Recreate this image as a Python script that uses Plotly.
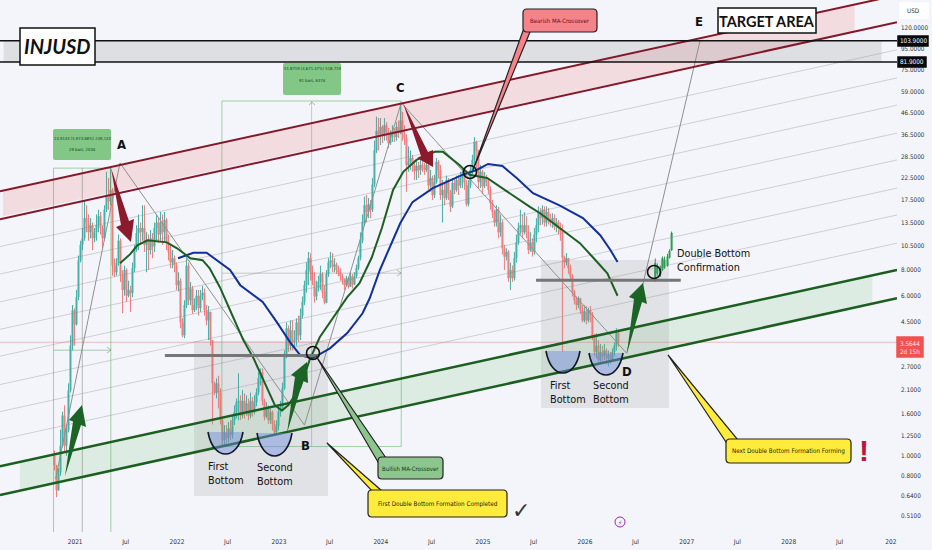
from datetime import datetime, timedelta
import pandas as pd
import plotly.graph_objects as go

# weekly candles
first_open = 1.0
candle_close = [
    .90, .68, .83, 1.12, 1.57, 1.12, 1.33, 2.08, 3.43, 5.1, 4.35, 5.9, 8.9, 10.6, 11.4, 14.3, 13.6, 12.2, 13.2, 11.4,
    12.2, 13.3, 14.6, 12.8, 11.4, 15.7, 18.5, 17.2, 19.6, 8.4, 7.8, 8.7, 11.1, 7.5, 6.4, 8.0, 6.0, 6.4, 6.17, 8.16,
    10.0, 12.1, 12.8, 12.2, 12.8, 10.6, 11.1, 10.0, 11.4, 10.4, 12.8, 13.6, 11.9, 13.6, 12.2, 14.0, 10.9, 9.8, 8.7, 9.13,
    8.4, 6.75, 7.1, 4.45, 3.85, 5.4, 8.4, 5.7, 6.5, 5.1, 5.4, 6.0, 5.22, 6.0, 6.2, 5.1, 4.55, 5.0, 3.65, 2.25,
    2.03, 2.25, 2.03, 1.49, 1.19, 1.3, 1.22, 1.36, 1.26, 1.49, 1.63, 1.82, 1.85, 1.57, 1.85, 1.63, 1.8, 1.57, 1.85, 1.63,
    1.82, 2.03, 2.38, 2.55, 1.85, 1.55, 1.7, 1.49, 1.63, 1.43, 1.3, 1.39, 1.63, 1.7, 2.13, 3.08, 4.17, 3.43, 4.08, 3.58,
    3.65, 4.45, 3.85, 4.8, 5.6, 6.75, 8.0, 9.13, 7.8, 7.1, 5.95, 6.52, 7.0, 7.65, 6.25, 5.55, 7.65, 8.7, 8.9, 8.3,
    8.5, 8.0, 7.8, 7.45, 7.1, 6.75, 7.3, 6.65, 7.45, 6.8, 7.45, 8.16, 9.13, 11.1, 13.6, 16.5, 15.3, 16.7, 15.7, 20.8,
    30.5, 38.0, 36.5, 39.6, 35.8, 40.4, 37.5, 33.1, 36.5, 38.0, 35.4, 39.6, 37.0, 42.6, 36.8, 35.0, 25.9, 26.8, 28.0, 25.9,
    24.2, 25.6, 24.5, 25.9, 25.0, 24.5, 25.9, 20.6, 22.4, 18.5, 21.4, 26.8, 24.5, 18.5, 19.6, 17.9, 21.9, 18.9, 16.3, 21.2,
    19.6, 21.9, 20.6, 22.4, 24.0, 21.2, 16.7, 20.6, 24.5, 27.4, 33.5, 30.5, 21.4, 24.0, 20.4, 22.4, 21.4, 19.6, 16.9, 15.3,
    13.6, 15.7, 12.2, 13.6, 10.2, 9.3, 9.8, 7.3, 8.0, 7.3, 9.13, 10.9, 12.8, 13.2, 12.2, 13.2, 12.2, 10.0, 10.9, 9.8,
    11.9, 13.2, 15.3, 14.3, 15.7, 13.6, 15.3, 14.0, 13.6, 14.3, 13.0, 13.6, 12.8, 12.2, 9.2, 8.7, 9.13, 8.16, 7.45, 6.25,
    5.7, 5.4, 5.83, 5.1, 4.55, 5.0, 4.55, 5.1, 4.88, 3.81, 3.2, 3.43, 2.92, 3.2, 3.05, 3.25, 2.98, 3.1, 2.92, 3.2,
    3.43, 3.98, 3.56,
]
candle_high = [
    1.06, .90, .87, 1.34, 1.64, 1.76, 1.41, 2.25, 3.85, 5.4, 5.2, 6.4, 9.4, 11.1, 12.8, 17.5, 16.5, 14.9, 14.3, 13.6,
    12.8, 14.9, 15.7, 15.3, 13.2, 16.5, 24.0, 22.4, 25.3, 20.0, 9.1, 9.13, 11.9, 11.4, 7.97, 8.4, 8.16, 7.1, 6.7, 8.7,
    10.6, 13.2, 14.9, 13.6, 16.5, 16.5, 12.2, 11.9, 12.5, 12.1, 13.6, 14.9, 14.3, 15.3, 14.9, 15.3, 14.3, 11.9, 10.6, 10.0,
    9.4, 8.7, 7.8, 7.3, 4.66, 5.7, 9.13, 8.7, 7.0, 6.7, 5.83, 6.4, 6.4, 6.4, 6.7, 6.5, 5.4, 5.35, 5.0, 3.65,
    2.3, 2.38, 2.45, 2.13, 1.52, 1.41, 1.41, 1.46, 1.49, 1.57, 1.76, 1.9, 2.52, 1.97, 2.09, 2.01, 1.97, 1.9, 2.03, 1.93,
    1.97, 2.13, 2.55, 2.66, 2.66, 1.9, 1.82, 1.76, 1.7, 1.66, 1.49, 1.49, 1.7, 1.85, 2.27, 3.25, 4.45, 4.3, 4.55, 4.55,
    4.08, 4.66, 4.8, 5.2, 5.95, 7.1, 8.7, 9.8, 9.66, 8.4, 7.8, 7.1, 7.5, 8.4, 7.8, 6.75, 8.0, 9.13, 9.8, 9.66,
    9.13, 8.7, 8.4, 8.16, 7.65, 7.3, 7.5, 7.4, 7.8, 7.65, 7.8, 8.5, 9.4, 12.2, 14.9, 18.2, 18.5, 17.9, 17.5, 22.4,
    34.0, 44.5, 43.8, 43.8, 40.4, 43.8, 41.8, 39.2, 38.2, 40.4, 39.2, 41.8, 42.6, 51.8, 47.0, 40.4, 36.5, 31.9, 30.5, 29.0,
    27.4, 27.4, 26.8, 27.4, 27.4, 26.5, 27.4, 26.5, 24.5, 23.0, 23.2, 28.0, 27.4, 25.9, 21.9, 21.4, 23.0, 22.4, 19.6, 22.4,
    22.4, 23.0, 23.2, 24.0, 25.0, 24.5, 21.9, 21.9, 25.9, 29.0, 35.4, 34.0, 29.3, 25.9, 24.5, 24.0, 23.2, 22.4, 20.4, 17.5,
    15.7, 16.5, 16.2, 14.9, 14.0, 10.6, 10.2, 10.0, 8.7, 8.4, 9.8, 11.9, 13.6, 15.7, 14.9, 15.3, 14.6, 13.2, 12.2, 11.4,
    12.8, 14.3, 16.3, 16.0, 16.5, 16.3, 16.3, 16.0, 15.0, 15.1, 14.9, 14.3, 14.0, 13.6, 13.3, 9.4, 9.66, 9.13, 8.5, 7.65,
    6.4, 5.95, 5.95, 5.83, 5.4, 5.4, 5.35, 5.25, 5.35, 5.0, 3.9, 3.94, 3.65, 3.5, 3.43, 3.5, 3.33, 3.25, 3.2, 3.33,
    3.56, 4.17, 3.85,
]
candle_low = [
    .85, .63, .68, .80, 1.10, 1.04, 1.0, 1.30, 2.03, 3.26, 3.43, 4.3, 5.7, 8.7, 10.0, 11.1, 12.2, 11.1, 11.4, 10.0,
    10.9, 11.1, 12.2, 11.9, 10.2, 11.1, 15.3, 15.7, 16.5, 7.5, 7.4, 7.5, 8.4, 7.0, 4.93, 6.0, 5.6, 5.9, 5.0, 5.9,
    7.8, 9.8, 10.0, 10.6, 11.1, 9.8, 7.8, 8.0, 9.5, 9.13, 9.8, 11.1, 10.8, 11.1, 10.6, 10.9, 10.0, 8.9, 8.16, 8.16,
    7.8, 6.4, 6.3, 4.17, 3.77, 3.73, 5.22, 5.4, 5.4, 4.9, 5.0, 5.1, 4.8, 5.0, 5.7, 4.8, 4.3, 3.65, 3.43, 1.42,
    1.97, 1.9, 1.7, 1.42, 1.13, 1.13, 1.11, 1.16, 1.19, 1.21, 1.41, 1.52, 1.49, 1.49, 1.52, 1.52, 1.57, 1.49, 1.52, 1.55,
    1.59, 1.74, 1.97, 2.2, 1.76, 1.49, 1.52, 1.43, 1.43, 1.33, 1.27, 1.27, 1.33, 1.55, 1.66, 2.09, 2.98, 3.2, 3.25, 3.25,
    3.33, 3.43, 3.58, 3.65, 4.66, 5.4, 6.2, 6.75, 7.1, 6.75, 5.55, 5.7, 6.3, 6.4, 5.83, 5.45, 5.55, 7.4, 8.16, 7.8,
    7.8, 7.65, 7.45, 7.1, 6.8, 6.4, 6.65, 6.5, 6.65, 6.5, 6.75, 7.3, 8.0, 8.9, 10.8, 13.2, 13.6, 14.3, 14.3, 15.3,
    20.2, 29.6, 30.5, 32.4, 33.1, 34.0, 34.0, 31.3, 32.4, 33.5, 33.5, 34.0, 35.0, 36.5, 34.0, 32.4, 19.2, 24.0, 24.5, 24.0,
    21.9, 21.9, 22.4, 23.2, 24.0, 23.2, 24.0, 19.6, 19.2, 17.5, 17.9, 21.0, 22.4, 17.5, 13.6, 16.5, 17.5, 17.5, 15.3, 16.0,
    18.7, 19.2, 18.5, 20.0, 20.0, 19.6, 16.3, 16.3, 20.0, 23.4, 25.9, 25.0, 20.0, 20.0, 18.7, 20.0, 20.4, 18.7, 15.7, 14.3,
    13.0, 13.0, 11.4, 11.6, 9.5, 8.0, 8.9, 7.0, 6.4, 7.0, 7.1, 8.7, 10.6, 11.9, 11.4, 11.9, 11.4, 9.55, 9.8, 9.3,
    9.5, 10.9, 12.2, 13.2, 13.3, 13.0, 13.0, 13.3, 13.0, 12.8, 12.5, 12.2, 11.9, 11.1, 3.2, 8.16, 8.4, 7.65, 7.1, 5.95,
    5.45, 5.1, 5.22, 4.88, 4.45, 4.45, 4.35, 4.45, 4.45, 3.65, 3.05, 2.98, 2.85, 2.85, 2.85, 2.92, 2.79, 2.72, 2.79, 2.92,
    3.05, 3.25, 3.38,
]

# projected bars after the second double bottom
forecast_year = [2026.69, 2026.71, 2026.74, 2026.76, 2026.78, 2026.81, 2026.83, 2026.85]
forecast_open = [7.3, 7.7, 7.6, 8.0, 8.2, 8.4, 9.2, 10.0]
forecast_close = [8.63, 8.2, 8.0, 9.1, 9.0, 9.3, 9.9, 12.1]
forecast_high = [9.1, 8.6, 8.4, 9.3, 9.3, 9.6, 10.1, 12.3]
forecast_low = [7.0, 7.5, 7.4, 7.9, 8.1, 8.3, 9.1, 9.9]

# the two moving averages
ma_green_year = [2021.44, 2021.54, 2021.61, 2021.71, 2021.90, 2022.00, 2022.13, 2022.25, 2022.32, 2022.42, 2022.52,
                 2022.65, 2022.75, 2022.88, 2022.96, 2023.03, 2023.09, 2023.21, 2023.30, 2023.40, 2023.53, 2023.67,
                 2023.79, 2023.91, 2024.01, 2024.12, 2024.22, 2024.35, 2024.53, 2024.61, 2024.77, 2024.87, 2025.04,
                 2025.17, 2025.33, 2025.46, 2025.56, 2025.82, 2025.95, 2026.08, 2026.22, 2026.32]
ma_green_price = [8.63, 9.55, 10.55, 11.15, 10.9, 10.2, 9.13, 8.93, 8.16, 6.6, 5.1,
                  3.65, 2.98, 2.15, 1.76, 1.66, 1.76, 2.15, 2.92, 3.77, 4.66, 5.9,
                  6.9, 9.2, 12.8, 19.6, 24.0, 27.4, 30.0, 30.0, 25.9, 23.2, 22.4,
                  20.2, 17.9, 16.2, 15.1, 12.1, 10.8, 9.2, 7.7, 6.0]
ma_blue_year = [2022.01, 2022.16, 2022.29, 2022.39, 2022.52, 2022.62, 2022.84, 2022.98, 2023.11, 2023.21, 2023.33,
                2023.50, 2023.67, 2023.82, 2023.89, 2023.99, 2024.19, 2024.31, 2024.51, 2024.80, 2024.94, 2025.05,
                2025.19, 2025.33, 2025.49, 2025.75, 2025.98, 2026.15, 2026.25, 2026.32]
ma_blue_price = [9.13, 9.7, 9.7, 8.93, 8.0, 6.75, 5.6, 4.45, 3.56, 3.08, 2.98,
                 3.33, 3.95, 4.93, 5.83, 8.0, 13.5, 17.1, 20.0, 23.2, 24.5, 26.2,
                 25.6, 22.4, 18.9, 16.5, 14.3, 11.8, 10.0, 8.75]

# A-B-C-D-E swing line
swing_year = [2020.81, 2021.44, 2023.25, 2024.20, 2026.41, 2027.13]
swing_price = [.77, 26.5, 1.41, 52.0, 3.15, 104.0]

# parallel channel grid, bottom line to top line
channel_left = [.645, .89, 1.20, 1.64, 2.22, 3.05, 4.12, 5.6, 7.65, 10.4, 14.1, 19.3]
channel_right = [5.83, 8.0, 10.8, 14.8, 20.0, 27.4, 37.0, 50.6, 68.6, 94.0, 128.0, 173.0]

level_prices = [103.9, 81.9]
last_price = 3.5644

y_ticks = [120, 95, 75, 59, 46.5, 36.5, 28.5, 22.5, 17.5, 13.5, 10.5, 8, 6, 4.5, 2.7, 2.1, 1.6, 1.25, 1, .8, .64, .51]
x_tick_dates = ["2021-01-01", "2021-07-01", "2022-01-01", "2022-07-01", "2023-01-01", "2023-07-01", "2024-01-01",
                "2024-07-01", "2025-01-01", "2025-07-01", "2026-01-01", "2026-07-01", "2027-01-01", "2027-07-01",
                "2028-01-01", "2028-07-01", "2029-01-01"]
x_tick_text = ["2021", "Jul", "2022", "Jul", "2023", "Jul", "2024", "Jul", "2025", "Jul", "2026", "Jul", "2027",
               "Jul", "2028", "Jul", "202"]

PLOT_W = 897
PLOT_H = 532
BG = "#f3f5fa"
TEXT_FONT = "DejaVu Sans Condensed"
TITLE_FONT = "Lato"
X_START = 2020.265
X_END = 2029.06
Y_RANGE = [-0.370, 2.215]
RED_LINE = "#84182a"
GREEN_LINE = "#1b5e20"
RED_ARROW = "#8a1a2c"
GREEN_ARROW = "#1c6426"
MEASURE = "rgba(76,175,80,0.5)"


def year_date(value):
    whole = int(value)
    return datetime(whole, 1, 1) + timedelta(days=(value - whole) * 365.25)


def years(values):
    return [year_date(v) for v in values]


def px_x(x):
    return x / PLOT_W


def px_y(y):
    return 1 - y / PLOT_H


def poly(points, close=True):
    coords = [f"{px_x(x):.5f} {px_y(y):.5f}" for x, y in points]
    return "M " + " L ".join(coords) + (" Z" if close else "")


def round_box(x0, y0, x1, y1, r=4):
    def p(x, y):
        return f"{px_x(x):.5f} {px_y(y):.5f}"
    return (f"M {p(x0 + r, y0)} L {p(x1 - r, y0)} Q {p(x1, y0)} {p(x1, y0 + r)} L {p(x1, y1 - r)} "
            f"Q {p(x1, y1)} {p(x1 - r, y1)} L {p(x0 + r, y1)} Q {p(x0, y1)} {p(x0, y1 - r)} "
            f"L {p(x0, y0 + r)} Q {p(x0, y0)} {p(x0 + r, y0)} Z")


def cup(x0, x1, y0, depth):
    def p(x, y):
        return f"{px_x(x):.5f} {px_y(y):.5f}"
    return f"M {p(x0, y0)} C {p(x0 + 5, y0 + depth * 1.33)} {p(x1 - 5, y0 + depth * 1.33)} {p(x1, y0)}"


fig = go.Figure()


def add_line(x, y, color, width, dash=None):
    fig.add_trace(go.Scatter(x=x, y=y, mode="lines", line=dict(color=color, width=width, dash=dash),
                             hoverinfo="skip", showlegend=False))


def add_band(x, y, color):
    fig.add_trace(go.Scatter(x=x, y=y, mode="lines", fill="toself", fillcolor=color, line=dict(width=0),
                             hoverinfo="skip", showlegend=False))


# bands between the channel lines and the target levels
add_band(years([2020.294, 2028.647, 2028.647, 2020.294]), [19.4, 157.5, 116.0, 14.6], "rgba(239,83,80,0.15)")
add_band(years([2020.46, 2028.82, 2028.82, 2020.46]), [.93, 7.5, 5.47, .68], "rgba(76,175,80,0.13)")
add_band(years([2020.30, 2028.91, 2028.91, 2020.30]), [103.9, 103.9, 81.9, 81.9], "rgba(110,110,110,0.16)")

# measuring boxes from low to high
add_line(years([2020.79, 2020.79, 2021.35, 2021.35]), [1.9, 25.0, 25.0, .4265], MEASURE, 1)
add_line(years([2020.79, 2020.79]), [.4265, 1.9], "rgba(239,83,80,0.5)", 1)
add_line(years([2021.07, 2021.07]), [.4265, 25.0], "rgba(120,120,120,0.5)", 1)
add_line(years([2020.79, 2021.35]), [3.26, 3.26], MEASURE, 1)
add_line(years([2022.44, 2022.44, 2024.20, 2024.20, 2022.44]), [1.11, 53.0, 53.0, 1.11, 1.11], MEASURE, 1)
add_line(years([2023.32, 2023.32]), [1.11, 53.0], "rgba(120,120,120,0.35)", 1)
add_line(years([2022.44, 2024.20]), [7.72, 7.72], "rgba(120,120,120,0.35)", 1)

# thin grid between the channels
for left, right in zip(channel_left[2:-2], channel_right[2:-2]):
    add_line(years([X_START, X_END]), [left, right], "rgba(130,130,130,0.33)", 1)

add_line(years([X_START, X_END]), [last_price, last_price], "rgba(239,83,80,0.35)", 1)
add_line(years(swing_year), swing_price, "#8f8f8f", 1)

candle_open = [first_open] + candle_close[:-1]
candle_dates = pd.date_range("2020-10-19", "2026-05-01", periods=len(candle_close))
fig.add_trace(go.Candlestick(x=candle_dates, open=candle_open, high=candle_high, low=candle_low, close=candle_close,
                             increasing=dict(line=dict(color="#26a69a", width=1), fillcolor="#26a69a"),
                             decreasing=dict(line=dict(color="#ef6a67", width=1), fillcolor="#ef6a67"),
                             opacity=0.85, whiskerwidth=0, hoverinfo="skip", showlegend=False))
fig.add_trace(go.Candlestick(x=years(forecast_year), open=forecast_open, high=forecast_high, low=forecast_low,
                             close=forecast_close,
                             increasing=dict(line=dict(color="#2c9a52", width=1), fillcolor="#2c9a52"),
                             decreasing=dict(line=dict(color="#2c9a52", width=1), fillcolor="#2c9a52"),
                             hoverinfo="skip", showlegend=False))

add_line(years(ma_blue_year), ma_blue_price, "#12309a", 2)
add_line(years(ma_green_year), ma_green_price, "#1d5f23", 2)

# horizontal necklines
add_line(years([2021.88, 2023.38]), [3.07, 3.07], "#767676", 3)
add_line(years([2025.52, 2026.94]), [7.14, 7.14], "#767676", 3)

# channel edges and target levels on top
for i in (-2, -1):
    add_line(years([X_START, X_END]), [channel_left[i], channel_right[i]], RED_LINE, 2)
for i in (0, 1):
    add_line(years([X_START, X_END]), [channel_left[i], channel_right[i]], GREEN_LINE, 2.5)
for level in level_prices:
    add_line(years([X_START, X_END]), [level, level], "#111111", 1.5)

shapes = []

# grey backgrounds behind the two formations
for box in [(194, 341, 328, 496), (541, 260, 669, 408)]:
    shapes.append(dict(type="rect", xref="paper", yref="paper", x0=px_x(box[0]), x1=px_x(box[2]), y0=px_y(box[1]),
                       y1=px_y(box[3]), fillcolor="rgba(120,120,120,0.15)", line_width=0, layer="below"))

# arrow tips on the measuring tools
for pts in [[(107, 347), (111, 350), (107, 353)], [(397, 270), (401, 273), (397, 276)], [(309, 105), (312, 102), (315, 105)]]:
    shapes.append(dict(type="path", xref="paper", yref="paper", path=poly(pts, close=False),
                       line=dict(color="rgba(120,120,120,0.5)", width=1)))

# block arrows
green_arrows = [
    [(65, 476), (73, 421.5), (69, 420), (82, 405), (86, 427), (81, 425)],
    [(287, 433), (295, 377), (291, 375), (307, 362), (308, 383), (303, 381)],
    [(627, 353), (634, 299), (629, 297), (643, 283), (647, 304), (642, 302)],
]
red_arrows = [
    [(111, 168), (121, 225), (116, 227), (131, 242), (134, 219), (129, 221)],
    [(403, 103), (421, 156), (417, 158), (433, 167), (433, 150), (428, 152)],
]
for pts in green_arrows:
    shapes.append(dict(type="path", xref="paper", yref="paper", path=poly(pts), fillcolor=GREEN_ARROW, line_width=0))
for pts in red_arrows:
    shapes.append(dict(type="path", xref="paper", yref="paper", path=poly(pts), fillcolor=RED_ARROW, line_width=0))

# cups under the bottoms
for x0, x1, y0, depth in [(208, 243, 432, 22), (257, 292, 433, 23), (546, 580, 351, 22), (589, 623, 353, 22)]:
    shapes.append(dict(type="path", xref="paper", yref="paper", path=cup(x0, x1, y0, depth) + " Z",
                       fillcolor="rgba(110,140,225,0.45)", line_width=0))
    shapes.append(dict(type="path", xref="paper", yref="paper", path=cup(x0, x1, y0, depth),
                       fillcolor="rgba(0,0,0,0)", line=dict(color="#10182a", width=1.6)))

# circles on the crossovers and the breakout
for cx, cy in [(313, 353), (470, 172), (654, 272)]:
    shapes.append(dict(type="circle", xref="paper", yref="paper", x0=px_x(cx - 6.5), x1=px_x(cx + 6.5),
                       y0=px_y(cy + 6.5), y1=px_y(cy - 6.5), line=dict(color="#111111", width=1.6)))

# callouts: tail first, then the box over it
callouts = [
    ([(524, 28), (530, 32), (473, 170)], (523, 9, 597, 32), "#f5848a"),
    ([(378, 462), (386, 458), (316, 356)], (378, 457, 443, 479), "#8cc68e"),
    ([(372, 491), (382, 491), (327, 443)], (368, 490, 507, 517), "#ffeb3b"),
    ([(728, 445), (738, 440), (668, 355)], (726, 439, 851, 463), "#ffeb3b"),
]
for tail, box, color in callouts:
    shapes.append(dict(type="path", xref="paper", yref="paper", path=poly(tail), fillcolor=color,
                       line=dict(color="#222222", width=1.2)))
    shapes.append(dict(type="path", xref="paper", yref="paper", path=round_box(*box), fillcolor=color,
                       line=dict(color="#222222", width=1.2)))

# green measure labels
for box in [(53, 129, 111, 160), (283, 63, 341, 95)]:
    shapes.append(dict(type="path", xref="paper", yref="paper", path=round_box(*box, r=2), fillcolor="#83c787", line_width=0))

# title boxes and price tags
for box, color, border in [((20, 28, 95, 65), "white", "#111111"), ((718, 8, 816, 33), "white", "#111111"),
                           ((900, 3, 928, 18), "white", "white"), ((898, 36, 928, 46), "#0a0a0a", "#0a0a0a"),
                           ((898, 57, 926, 67), "#0a0a0a", "#0a0a0a"), ((897, 337, 923, 357), "#ef5350", "#ef5350")]:
    shapes.append(dict(type="rect", xref="paper", yref="paper", x0=px_x(box[0]), x1=px_x(box[2]), y0=px_y(box[1]),
                       y1=px_y(box[3]), fillcolor=color, line=dict(color=border, width=1.5)))

shapes.append(dict(type="circle", xref="paper", yref="paper", x0=px_x(615), x1=px_x(625), y0=px_y(527), y1=px_y(517),
                   line=dict(color="#9c27b0", width=1)))

annotations = []


def note(x, y, text, size=10.8, color="#111111", anchor="left", font=TEXT_FONT):
    annotations.append(dict(x=px_x(x), y=px_y(y), xref="paper", yref="paper", text=text, showarrow=False,
                            xanchor=anchor, yanchor="middle", align=anchor,
                            font=dict(family=font, size=size, color=color)))


note(57.5, 46, "<b><i>INJUSD</i></b>", 20, anchor="center", font=TITLE_FONT)
note(767, 21, "<b>TARGET AREA</b>", 14.5, anchor="center", font=TITLE_FONT)
for x, y, letter in [(121, 145, "A"), (305, 445, "B"), (400, 87, "C"), (627, 371, "D"), (699, 21, "E")]:
    note(x, y, f"<b>{letter}</b>", 13, anchor="center")
for x, y, label in [(206, 473, "First<br>Bottom"), (255, 474, "Second<br>Bottom"),
                    (548, 392, "First<br>Bottom"), (591, 392, "Second<br>Bottom"),
                    (675, 260, "Double Bottom<br>Confirmation")]:
    note(x, y, label)
note(560, 20.5, "Bearish MA-Crossover", 6, "#6b0f14", "center")
note(410.5, 468, "Bullish MA-Crossover", 6, "#0f3a12", "center")
note(437.5, 503.5, "First Double Bottom Formation Completed", 6.3, "#222200", "center")
note(788.5, 451, "Next Double Bottom Formation Forming", 6.3, "#222200", "center")
note(82, 138, "24.9133 (5,973.68%) 249,133", 4.2, "#143d18", "center")
note(82, 149, "29 bars, 203d", 4.2, "#143d18", "center")
note(312, 68, "51.8719 (4,671.47%) 518,719", 4.2, "#143d18", "center")
note(312, 80, "91 bars, 637d", 4.2, "#143d18", "center")
note(521, 510, "✓", 22, "#333333", "center", "DejaVu Sans")
note(864, 450, "<b>!</b>", 30, "#c2153c", "center", "Liberation Sans")
note(620, 522, "⚡", 6, "#9c27b0", "center", "DejaVu Sans")
note(914, 11, "USD", 6.3, "#333333", "center")
note(913, 41, "103.9000", 6.3, "white", "center")
note(912, 62, "81.9000", 6.3, "white", "center")
note(910, 347, "3.5644<br>2d 15h", 6.3, "#ffe3e3", "center")

fig.update_layout(
    width=932,
    height=550,
    margin=dict(l=0, r=35, t=0, b=18),
    paper_bgcolor=BG,
    plot_bgcolor=BG,
    showlegend=False,
    shapes=shapes,
    annotations=annotations,
    font=dict(family=TEXT_FONT, size=6.3, color="#333333"),
    xaxis=dict(type="date", range=[year_date(X_START), year_date(X_END)], tickmode="array", tickvals=x_tick_dates,
               ticktext=x_tick_text, showgrid=False, zeroline=False, showline=False, ticks="",
               rangeslider=dict(visible=False), tickfont=dict(size=6.5), ticklabelstandoff=4),
    yaxis=dict(type="log", side="right", range=Y_RANGE, tickmode="array", tickvals=y_ticks,
               ticktext=[f"{t:.4f}" for t in y_ticks], showgrid=False, zeroline=False, showline=False, ticks="",
               tickfont=dict(size=6.3), ticklabelstandoff=3),
)

# plotly leaves the browser's default body margin, which would shift everything 8px
fig.write_html("out.html", config={"displayModeBar": False}, post_script="document.body.style.margin = '0';")
